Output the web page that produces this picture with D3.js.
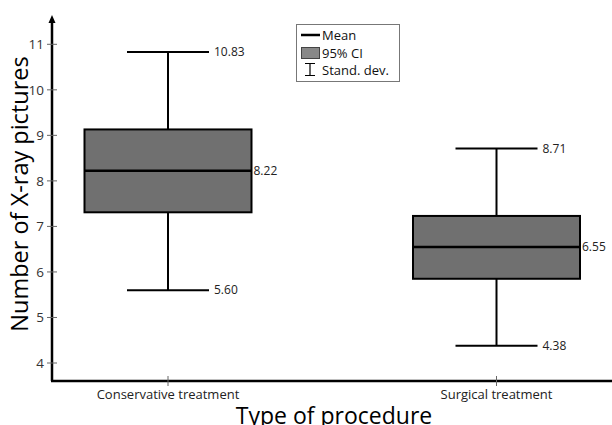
<!DOCTYPE html>
<html><head><meta charset="utf-8">
<script src="https://cdn.jsdelivr.net/npm/d3@7"></script>
<style>body{margin:0;background:#fff}svg{display:block}text{font-family:"Open Sans",sans-serif}</style>
</head><body>
<svg id="c" width="612" height="425"></svg>
<script>
const categories = ["Conservative treatment", "Surgical treatment"];
const means = [8.22, 6.55];
const ciLow = [7.31, 5.85];
const ciHigh = [9.13, 7.23];
const sdLow = [5.60, 4.38];
const sdHigh = [10.83, 8.71];
const yTicks = [4, 5, 6, 7, 8, 9, 10, 11];

const svg = d3.select("#c");
const x0 = 52, xEnd = 612, yBottom = 381, yTop = 15;
const y = d3.scaleLinear().domain([4, 11]).range([363, 44.3]);
const x = d3.scalePoint().domain(categories).range([168, 496.5]);
const cx = c => x(c);
const boxW = 167, capW = 82;

// y axis
svg.append("line").attr("x1", x0).attr("x2", x0).attr("y1", yBottom).attr("y2", yTop + 4)
  .attr("stroke", "#000").attr("stroke-width", 2.5);
svg.append("path").attr("d", `M${x0},${yTop} L${x0-3.5},${yTop+8} L${x0+3.5},${yTop+8} Z`).attr("fill", "#000");
const yg = svg.append("g");
yTicks.forEach(t => {
  yg.append("line").attr("x1", x0 - 5).attr("x2", x0 + 5).attr("y1", y(t)).attr("y2", y(t))
    .attr("stroke", "#666").attr("stroke-width", 1);
  yg.append("text").attr("x", x0 - 8).attr("y", y(t)).attr("dy", "0.35em").attr("text-anchor", "end")
    .attr("font-size", 13.5).attr("fill", "#333").text(t);
});
// x axis
svg.append("line").attr("x1", x0 - 1).attr("x2", xEnd).attr("y1", yBottom).attr("y2", yBottom)
  .attr("stroke", "#000").attr("stroke-width", 2.5);
categories.forEach(c => {
  svg.append("line").attr("x1", cx(c)).attr("x2", cx(c)).attr("y1", yBottom - 5).attr("y2", yBottom + 5)
    .attr("stroke", "#666").attr("stroke-width", 1);
  svg.append("text").attr("x", cx(c)).attr("y", 399).attr("text-anchor", "middle")
    .attr("font-size", 13).attr("fill", "#222").text(c);
});

// titles
svg.append("text").attr("transform", `translate(28,194) rotate(-90)`)
  .attr("text-anchor", "middle").attr("font-size", 23.5).attr("fill", "#000").text("Number of X-ray pictures");
svg.append("text").attr("x", 334).attr("y", 424).attr("text-anchor", "middle")
  .attr("font-size", 23).attr("fill", "#000").text("Type of procedure");

// boxes
categories.forEach((c, i) => {
  const m = cx(c);
  const g = svg.append("g");
  g.append("line").attr("x1", m).attr("x2", m).attr("y1", y(sdHigh[i])).attr("y2", y(ciHigh[i]))
    .attr("stroke", "#000").attr("stroke-width", 2);
  g.append("line").attr("x1", m).attr("x2", m).attr("y1", y(ciLow[i])).attr("y2", y(sdLow[i]))
    .attr("stroke", "#000").attr("stroke-width", 2);
  [sdHigh[i], sdLow[i]].forEach(v => {
    g.append("line").attr("x1", m - capW / 2).attr("x2", m + capW / 2).attr("y1", y(v)).attr("y2", y(v))
      .attr("stroke", "#000").attr("stroke-width", 2);
    g.append("text").attr("x", m + capW / 2 + 5).attr("y", y(v)).attr("dy", "0.35em")
      .attr("font-size", 12).attr("fill", "#222").text(v.toFixed(2));
  });
  g.append("rect").attr("x", m - boxW / 2).attr("width", boxW).attr("y", y(ciHigh[i]))
    .attr("height", y(ciLow[i]) - y(ciHigh[i])).attr("fill", "#707070").attr("stroke", "#000").attr("stroke-width", 2);
  g.append("line").attr("x1", m - boxW / 2).attr("x2", m + boxW / 2).attr("y1", y(means[i])).attr("y2", y(means[i]))
    .attr("stroke", "#000").attr("stroke-width", 2.5);
  g.append("text").attr("x", m + boxW / 2 + 2).attr("y", y(means[i])).attr("dy", "0.35em")
    .attr("font-size", 12).attr("fill", "#222").text(means[i].toFixed(2));
});

// legend
const lg = svg.append("g");
lg.append("rect").attr("x", 296.5).attr("y", 24.5).attr("width", 103).attr("height", 57)
  .attr("fill", "#fff").attr("stroke", "#777").attr("stroke-width", 1);
lg.append("line").attr("x1", 301).attr("x2", 320).attr("y1", 35).attr("y2", 35).attr("stroke", "#000").attr("stroke-width", 2.5);
lg.append("text").attr("x", 322).attr("y", 35).attr("dy", "0.35em").attr("font-size", 13).attr("fill", "#111").text("Mean");
lg.append("rect").attr("x", 301.5).attr("y", 47.5).attr("width", 18).attr("height", 11)
  .attr("fill", "#888").attr("stroke", "#444").attr("stroke-width", 1);
lg.append("text").attr("x", 322).attr("y", 53).attr("dy", "0.35em").attr("font-size", 13).attr("fill", "#111").text("95% CI");
lg.append("path").attr("d", "M305,63.5 H315 M310,63.5 V75.5 M305,75.5 H315").attr("stroke", "#000").attr("stroke-width", 1.2).attr("fill", "none");
lg.append("text").attr("x", 322).attr("y", 70).attr("dy", "0.35em").attr("font-size", 13).attr("fill", "#111").text("Stand. dev.");
</script>
</body></html>
